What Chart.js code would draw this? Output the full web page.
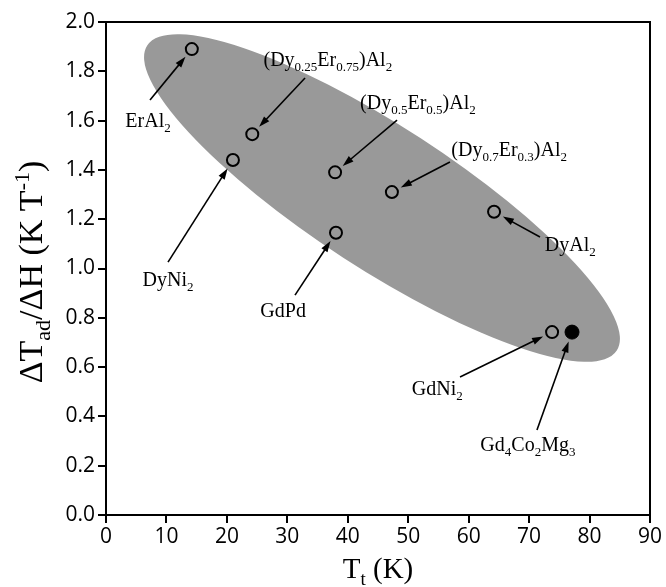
<!DOCTYPE html>
<html>
<head>
<meta charset="utf-8">
<script src="https://cdn.jsdelivr.net/npm/chart.js@4.4.1/dist/chart.umd.min.js"></script>
<style>
  html, body { margin: 0; padding: 0; background: #fff; }
  canvas { display: block; }
</style>
</head>
<body>
<canvas id="scatter" width="666" height="587"></canvas>
<script>
// open circles
var openX = [14.2, 24.2, 21.0, 37.9, 38.05, 47.3, 64.2, 73.8];
var openY = [1.89, 1.545, 1.44, 1.39, 1.145, 1.31, 1.23, 0.742];
// filled circle (Gd4Co2Mg3)
var filledX = [77.1];
var filledY = [0.742];

var xTicks = [0, 10, 20, 30, 40, 50, 60, 70, 80, 90];
var yTicks = [0.0, 0.2, 0.4, 0.6, 0.8, 1.0, 1.2, 1.4, 1.6, 1.8, 2.0];

// compound names, [text, isSub]
var names = [
    [['ErAl', 0], ['2', 1]],
    [['(Dy', 0], ['0.25', 1], ['Er', 0], ['0.75', 1], [')Al', 0], ['2', 1]],
    [['DyNi', 0], ['2', 1]],
    [['(Dy', 0], ['0.5', 1], ['Er', 0], ['0.5', 1], [')Al', 0], ['2', 1]],
    [['GdPd', 0]],
    [['(Dy', 0], ['0.7', 1], ['Er', 0], ['0.3', 1], [')Al', 0], ['2', 1]],
    [['DyAl', 0], ['2', 1]],
    [['GdNi', 0], ['2', 1]],
    [['Gd', 0], ['4', 1], ['Co', 0], ['2', 1], ['Mg', 0], ['3', 1]]
];

// where each label sits and where its arrow starts (data units)
var labelPos = [[6.95, 1.594], [36.7, 1.842], [10.26, 0.949], [51.6, 1.668], [29.3, 0.824],
                [66.7, 1.477], [76.8, 1.091], [54.8, 0.507], [69.8, 0.28]];
var arrowFrom = [[7.28, 1.684], [32.93, 1.773], [10.26, 1.026], [48.15, 1.602], [31.27, 0.892],
                 [56.9, 1.432], [71.8, 1.128], [58.57, 0.56], [71.3, 0.345]];

// grey ellipse: ends of the long axis (data units) and short/long ratio
var ellipseEnds = [[6.82, 1.905], [84.5, 0.667]];
var ellipseRatio = 0.254;

var serif = '"Liberation Serif", "DejaVu Serif", serif';

function richWidth(ctx, segs, size) {
    var w = 0;
    segs.forEach(function (s) {
        ctx.font = (s[1] ? Math.round(size * 0.65) : size) + 'px ' + serif;
        w += ctx.measureText(s[0]).width;
    });
    return w;
}

function drawRich(ctx, segs, x, y, size) {
    var w = richWidth(ctx, segs, size);
    var cx = x - w / 2;
    ctx.textBaseline = 'middle';
    ctx.textAlign = 'left';
    segs.forEach(function (s) {
        var sz = s[1] ? Math.round(size * 0.65) : size;
        ctx.font = sz + 'px ' + serif;
        var dy = s[1] === 1 ? size * 0.34 : (s[1] === 2 ? -size * 0.3 : 0);
        ctx.fillText(s[0], cx, y + dy);
        cx += ctx.measureText(s[0]).width;
    });
}

function arrow(ctx, x1, y1, x2, y2) {
    var ang = Math.atan2(y2 - y1, x2 - x1);
    var len = 11, half = 3.6;
    ctx.beginPath();
    ctx.moveTo(x1, y1);
    ctx.lineTo(x2 - Math.cos(ang) * len * 0.8, y2 - Math.sin(ang) * len * 0.8);
    ctx.lineWidth = 1.6;
    ctx.strokeStyle = '#000';
    ctx.stroke();
    ctx.beginPath();
    ctx.moveTo(x2, y2);
    ctx.lineTo(x2 - Math.cos(ang) * len - Math.sin(ang) * half, y2 - Math.sin(ang) * len + Math.cos(ang) * half);
    ctx.lineTo(x2 - Math.cos(ang) * len + Math.sin(ang) * half, y2 - Math.sin(ang) * len - Math.cos(ang) * half);
    ctx.closePath();
    ctx.fillStyle = '#000';
    ctx.fill();
}

var ellipsePlugin = {
    id: 'ellipse',
    beforeDatasetsDraw: function (chart) {
        var ctx = chart.ctx, xs = chart.scales.x, ys = chart.scales.y, area = chart.chartArea;
        var x1 = xs.getPixelForValue(ellipseEnds[0][0]), y1 = ys.getPixelForValue(ellipseEnds[0][1]);
        var x2 = xs.getPixelForValue(ellipseEnds[1][0]), y2 = ys.getPixelForValue(ellipseEnds[1][1]);
        var a = Math.hypot(x2 - x1, y2 - y1) / 2;
        ctx.save();
        ctx.beginPath();
        ctx.rect(area.left, area.top, area.right - area.left, area.bottom - area.top);
        ctx.clip();
        ctx.beginPath();
        ctx.ellipse((x1 + x2) / 2, (y1 + y2) / 2, a, a * ellipseRatio, Math.atan2(y2 - y1, x2 - x1), 0, Math.PI * 2);
        ctx.fillStyle = '#999999';
        ctx.fill();
        ctx.restore();
    }
};

var notePlugin = {
    id: 'notes',
    afterDatasetsDraw: function (chart) {
        var ctx = chart.ctx, xs = chart.scales.x, ys = chart.scales.y;
        var allX = openX.concat(filledX), allY = openY.concat(filledY);
        ctx.save();
        ctx.fillStyle = '#000';
        names.forEach(function (segs, i) {
            var px = xs.getPixelForValue(allX[i]), py = ys.getPixelForValue(allY[i]);
            var tx = xs.getPixelForValue(arrowFrom[i][0]), ty = ys.getPixelForValue(arrowFrom[i][1]);
            var d = Math.hypot(px - tx, py - ty), gap = 10;
            arrow(ctx, tx, ty, px - (px - tx) / d * gap, py - (py - ty) / d * gap);
            ctx.fillStyle = '#000';
            drawRich(ctx, segs, xs.getPixelForValue(labelPos[i][0]), ys.getPixelForValue(labelPos[i][1]), 20);
        });
        ctx.restore();
    },
    afterDraw: function (chart) {
        var ctx = chart.ctx, area = chart.chartArea;
        ctx.save();
        // top and right frame
        ctx.strokeStyle = '#000';
        ctx.lineWidth = 2;
        ctx.beginPath();
        ctx.moveTo(area.left, area.top);
        ctx.lineTo(area.right, area.top);
        ctx.lineTo(area.right, area.bottom);
        ctx.stroke();
        ctx.fillStyle = '#000';
        // x title
        drawRich(ctx, [['T', 0], ['t', 1], [' (K)', 0]], (area.left + area.right) / 2, 570, 29);
        // y title
        ctx.translate(33, 272);
        ctx.rotate(-Math.PI / 2);
        drawRich(ctx, [['\u0394T', 0], ['ad', 1], ['/\u0394H (K T', 0], ['-1', 2], [')', 0]], 0, 0, 34);
        ctx.restore();
    }
};

var ctx1 = document.getElementById('scatter').getContext('2d');
var myChart = new Chart(ctx1, {
    type: 'scatter',
    data: {
        datasets: [{
            label: 'open',
            data: openX.map(function (x, i) { return { x: x, y: openY[i] }; }),
            pointStyle: 'circle',
            pointRadius: 6,
            borderWidth: 2,
            borderColor: '#000',
            backgroundColor: 'rgba(0,0,0,0)'
        },
        {
            label: 'filled',
            data: filledX.map(function (x, i) { return { x: x, y: filledY[i] }; }),
            pointStyle: 'circle',
            pointRadius: 7,
            borderWidth: 1,
            borderColor: '#000',
            backgroundColor: '#000'
        }]
    },
    options: {
        responsive: false,
        animation: false,
        events: [],
        layout: {
            padding: { left: 0, right: 16, top: 22, bottom: 0 }
        },
        plugins: {
            legend: { display: false },
            tooltip: { enabled: false }
        },
        scales: {
            x: {
                type: 'linear',
                min: 0,
                max: 90,
                afterFit: function (s) { s.height = 72; },
                afterBuildTicks: function (s) { s.ticks = xTicks.map(function (v) { return { value: v }; }); },
                ticks: {
                    color: '#000',
                    padding: 1,
                    font: { family: '"Open Sans", sans-serif', size: 21 }
                },
                grid: {
                    drawOnChartArea: false,
                    drawTicks: true,
                    tickLength: 8,
                    color: '#000',
                    lineWidth: 2
                },
                border: { display: true, color: '#000', width: 2 }
            },
            y: {
                type: 'linear',
                min: 0,
                max: 2,
                afterFit: function (s) { s.width = 106; },
                afterBuildTicks: function (s) { s.ticks = yTicks.map(function (v) { return { value: v }; }); },
                ticks: {
                    color: '#000',
                    padding: 3,
                    font: { family: '"Open Sans", sans-serif', size: 21 },
                    callback: function (value) { return value.toFixed(1); }
                },
                grid: {
                    drawOnChartArea: false,
                    drawTicks: true,
                    tickLength: 8,
                    color: '#000',
                    lineWidth: 2
                },
                border: { display: true, color: '#000', width: 2 }
            }
        }
    },
    plugins: [ellipsePlugin, notePlugin]
});
</script>
</body>
</html>
